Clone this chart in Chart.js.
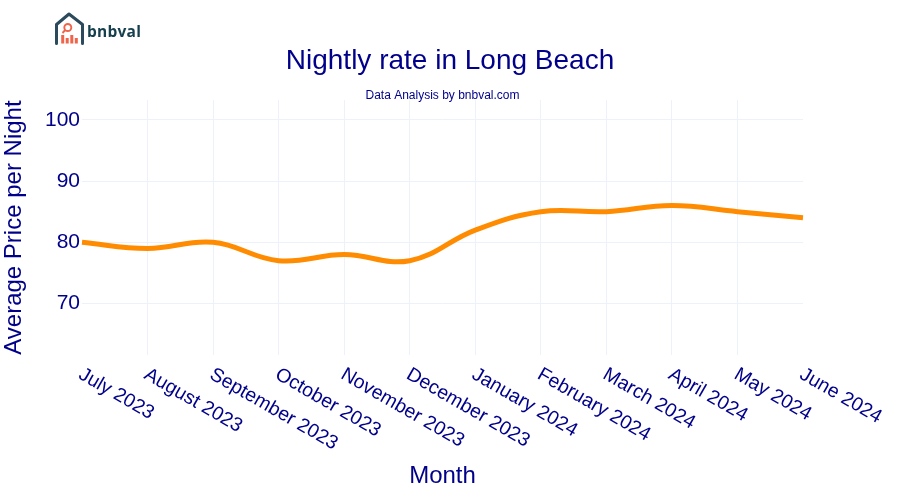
<!DOCTYPE html>
<html><head><meta charset="utf-8">
<script src="https://cdn.jsdelivr.net/npm/chart.js@4"></script>
<style>html,body{margin:0;padding:0;background:#fff}#w{position:relative;width:900px;height:500px}
#logo{position:absolute;left:53px;top:11px}
#bn{position:absolute;left:87px;top:20px;font:bold 15.5px "Open Sans",sans-serif;color:#17404f;letter-spacing:.25px}</style>
</head><body><div id="w"><canvas id="c" width="900" height="500"></canvas>
<svg id="logo" width="34" height="36" viewBox="0 0 34 36">
<path d="M3.5 32.5V13.5L16 3L29.5 13.5V32.5" fill="none" stroke="#2b4a5c" stroke-width="3" stroke-linejoin="round" stroke-linecap="round"/>
<circle cx="14.8" cy="16.5" r="3.5" fill="none" stroke="#f0654a" stroke-width="1.9"/>
<path d="M12.3 19L9.5 22" stroke="#f0654a" stroke-width="1.9"/>
<g fill="#f0654a"><rect x="8.2" y="24" width="3" height="8.5"/><rect x="12.7" y="27" width="3" height="5.5"/><rect x="17.3" y="24" width="3" height="8.5"/><rect x="21.8" y="27" width="3" height="5.5"/></g></svg>
<div id="bn">bnbval</div></div>
<script>
const months=["July 2023","August 2023","September 2023","October 2023","November 2023","December 2023","January 2024","February 2024","March 2024","April 2024","May 2024","June 2024"];
const prices=[80,79,80,77,78,77,82,85,85,86,85,84];
const yTicks=[70,80,90,100];
const navy="#00008B",grid="#EDF1F9",font='"Liberation Sans",Arial,sans-serif';
const tweaks={id:'tweaks',afterLayout(ch){
  const t=ch.titleBlock; t.left=0; t.right=900; t.width=900;
},beforeDraw(ch){
  const s=ch.scales.x;
  s.getLabelItems(ch.chartArea).forEach((i,n)=>{i.options.textAlign='left';i.options.translation[0]=s.getPixelForTick(n)+4;});
}};
new Chart(document.getElementById('c'),{type:'line',
 data:{labels:months,datasets:[{data:prices,borderColor:'#FF8C00',borderWidth:5,pointRadius:0,tension:0.4,fill:false}]},
 plugins:[tweaks],
 options:{responsive:false,animation:false,
  layout:{padding:{top:0,left:0,right:97,bottom:9}},
  plugins:{legend:{display:false},tooltip:{enabled:false},
   title:{display:true,text:'Nightly rate in Long Beach',color:navy,font:{family:font,size:28,weight:'normal'},padding:{top:44,bottom:13},fullSize:true},
   subtitle:{display:true,text:'Data Analysis by bnbval.com',color:navy,font:{family:font,size:12,weight:'normal',lineHeight:0.8},padding:{top:0,bottom:0},fullSize:false}},
  scales:{
   x:{type:'category',offset:false,
     grid:{color:c=>(c.index===0||c.index===months.length-1)?'transparent':grid,lineWidth:1,drawTicks:false},border:{display:false},
     ticks:{color:navy,font:{family:font,size:19.5},minRotation:-30,maxRotation:-30,autoSkip:false,padding:8},
     title:{display:true,text:'Month',color:navy,font:{family:font,size:24},padding:0},
     afterFit(a){a.height=136;}},
   y:{min:61.6,max:103.2,
     afterBuildTicks(a){a.ticks=yTicks.map(v=>({value:v}));},
     grid:{color:grid,lineWidth:1,drawTicks:false},border:{display:false},
     ticks:{color:navy,font:{family:font,size:21},padding:2},
     title:{display:true,text:'Average Price per Night',color:navy,font:{family:font,size:24},padding:0},
     afterFit(a){a.width=82;}}
  }}});
</script></body></html>
